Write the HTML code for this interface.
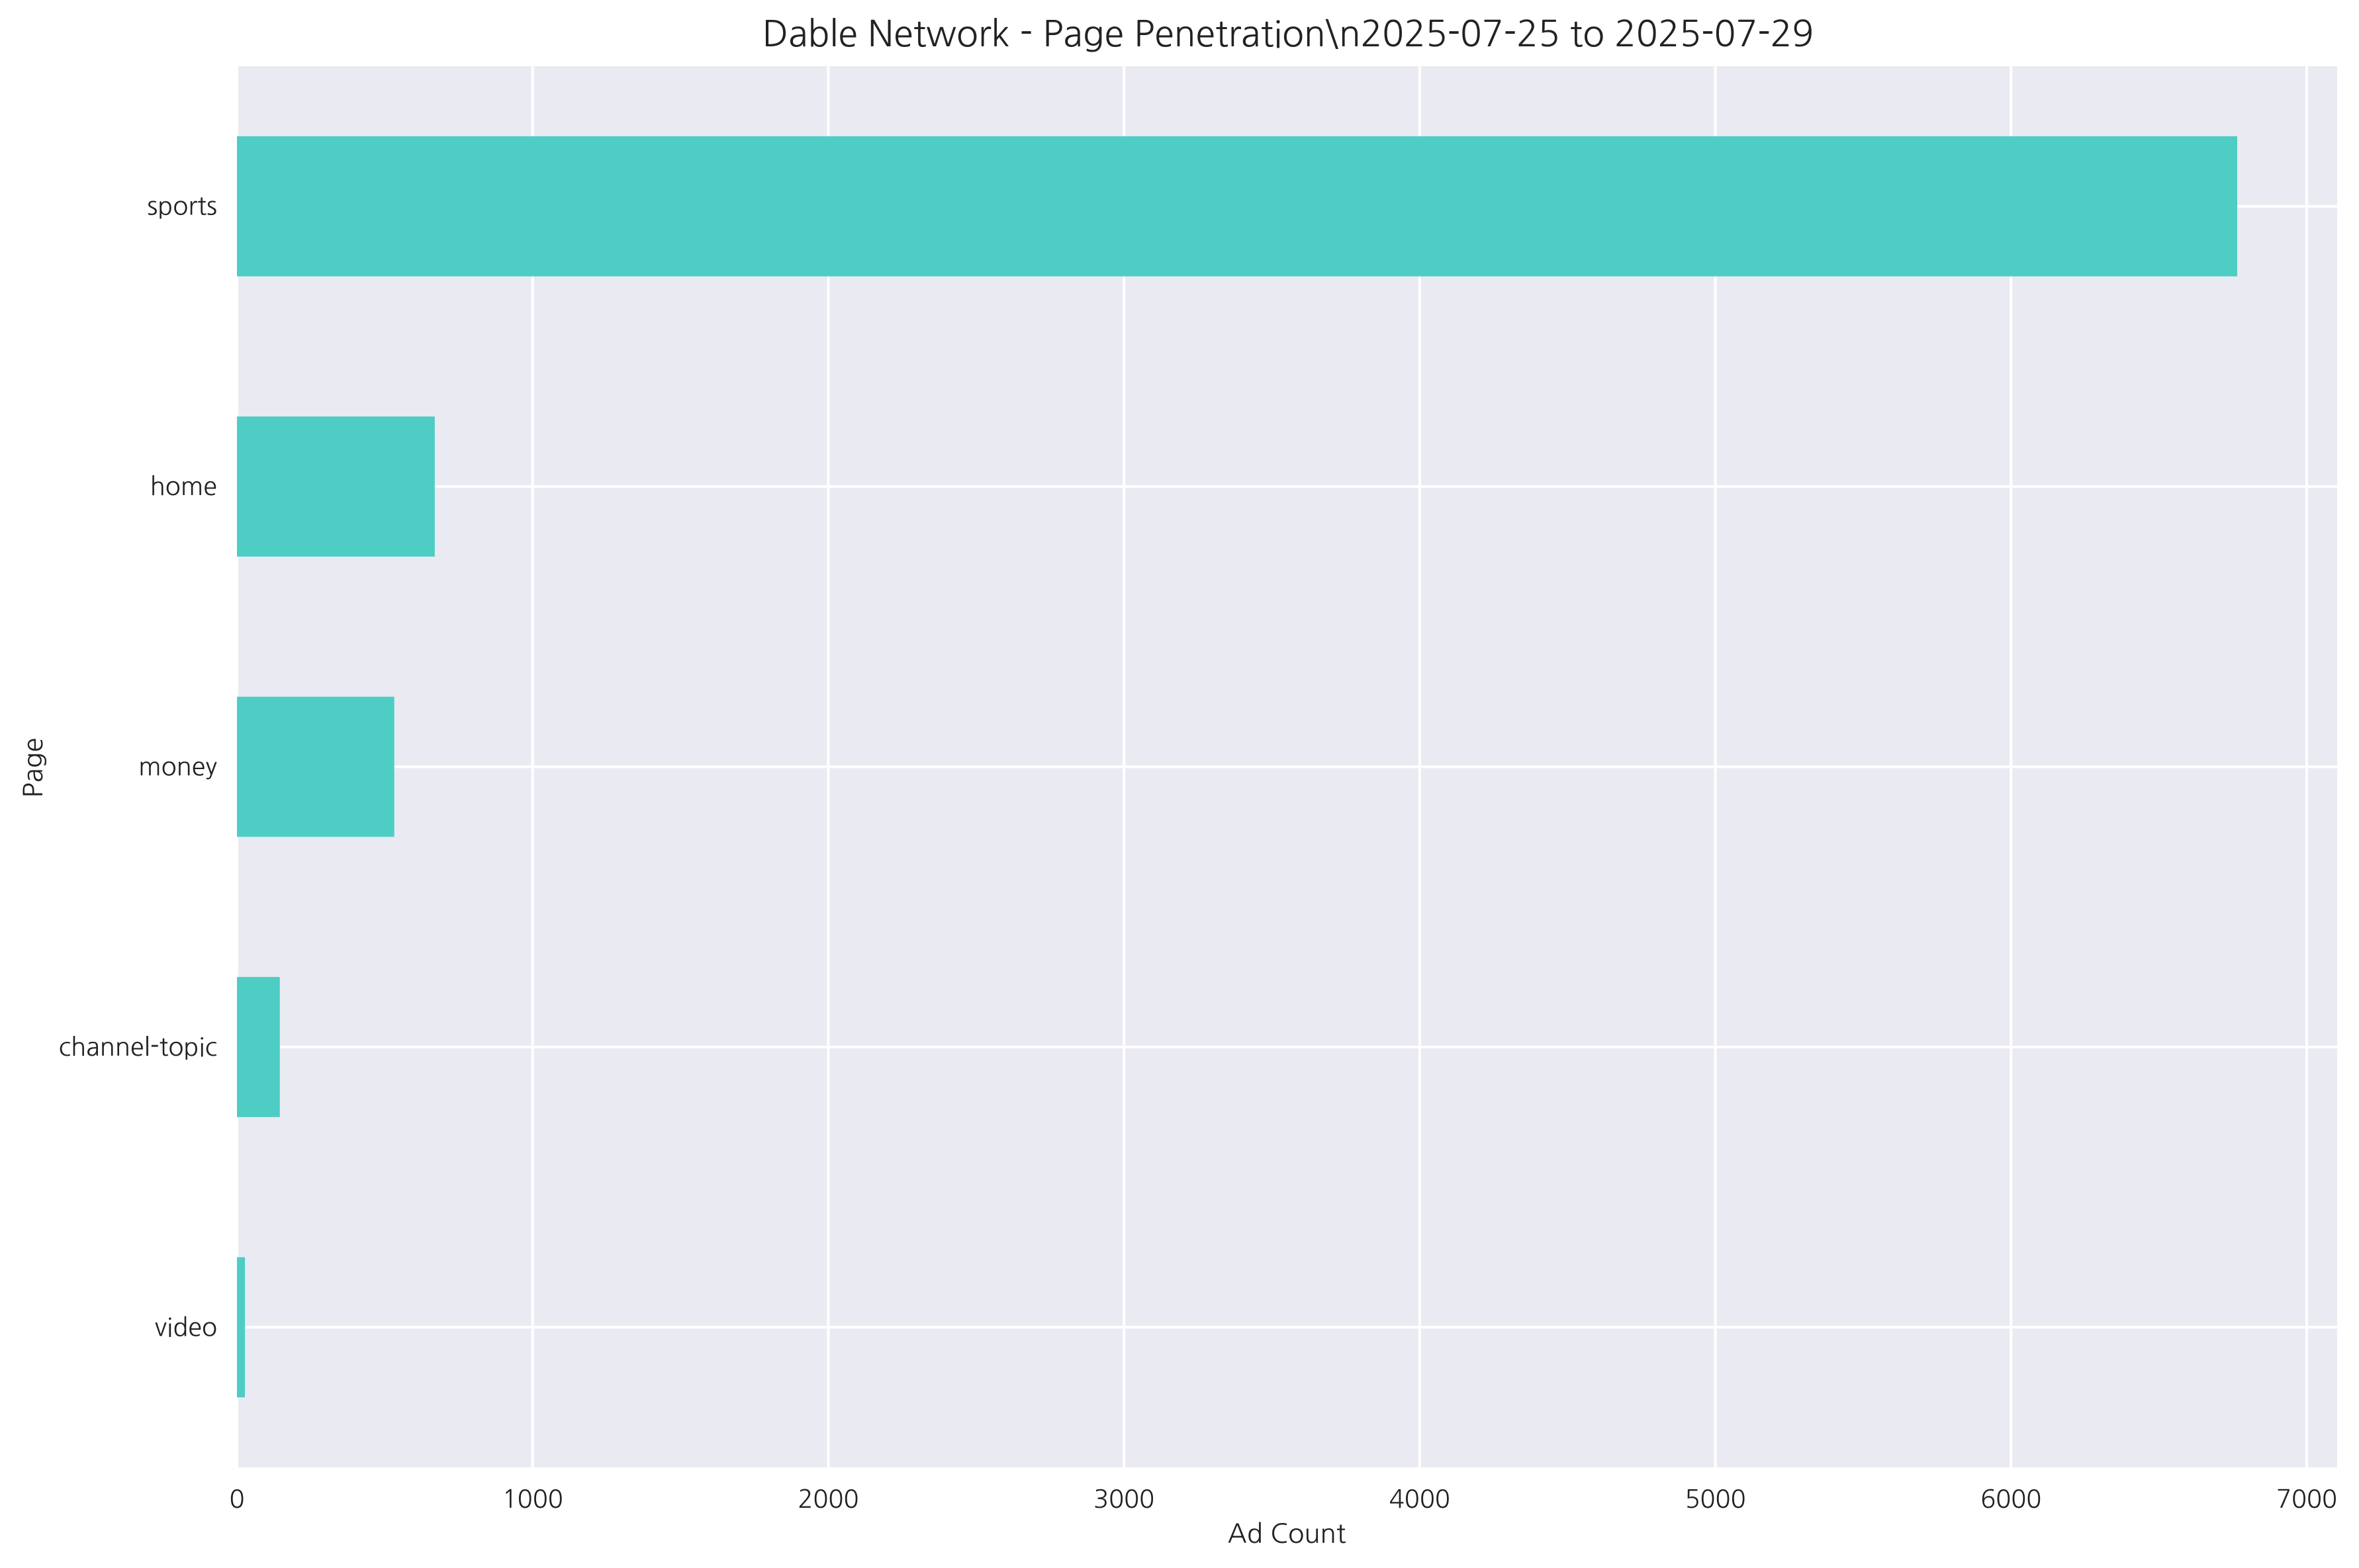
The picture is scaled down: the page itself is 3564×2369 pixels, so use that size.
<!DOCTYPE html>
<html><head><meta charset="utf-8"><style>
body{margin:0;background:#fff}
svg{display:block;font-family:"NanumGothic","Liberation Sans",sans-serif}
</style></head><body>
<svg id="chart" width="3564" height="2369" viewBox="0 0 3564 2369" xmlns="http://www.w3.org/2000/svg">
<rect x="0" y="0" width="3564" height="2369" fill="#fff"/>
<text x="1946" y="70" font-size="54" text-anchor="middle" fill="#222">Dable Network - Page Penetration\n2025-07-25 to 2025-07-29</text>
<g id="plot"></g>
<text x="1944" y="2331" font-size="40" text-anchor="middle" fill="#222">Ad Count</text>
<text x="0" y="0" font-size="40" text-anchor="middle" fill="#222" transform="translate(64,1160) rotate(-90)">Page</text>
</svg>
<script>
const categories = ["sports","home","money","channel-topic","video"];
const values = [6765, 669, 532, 145, 27];
const xTicks = [0,1000,2000,3000,4000,5000,6000,7000];
const xTickLabels = ["0","1000","2000","3000","4000","5000","6000","7000"];

const L=358,R=3531,T=100,B=2217,XMAX=7103;
const NS="http://www.w3.org/2000/svg";
const g=document.getElementById('plot');
const xs=v=>L+(v/XMAX)*(R-L);
const band=(B-T)/categories.length;
const ys=i=>T+band*(i+0.5);
function mk(tag,attrs){const e=document.createElementNS(NS,tag);for(const k in attrs)e.setAttribute(k,attrs[k]);g.appendChild(e);return e;}

const bg=mk('rect',{x:L,y:T,width:R-L,height:B-T,fill:'#eaeaf2'});



xTicks.forEach((t,i)=>{
  const ln=mk('line',{x1:xs(t),x2:xs(t),y1:T,y2:B,stroke:'#fff','stroke-width':4});
  
  
  const tx=mk('text',{x:xs(t),y:2278,'font-size':38,'text-anchor':'middle',fill:'#222'});
  tx.textContent=xTickLabels[i];
  
  
});
categories.forEach((c,i)=>{
  const ln=mk('line',{x1:L,x2:R,y1:ys(i),y2:ys(i),stroke:'#fff','stroke-width':4});
  
  
});
categories.forEach((c,i)=>{
  const h=band*0.5;
  const r=mk('rect',{x:xs(0),y:ys(i)-h/2,width:xs(values[i])-xs(0),height:h,fill:'#4ecdc4'});
  
  
  const tx=mk('text',{x:328,y:ys(i)+13,'font-size':38,'text-anchor':'end',fill:'#222'});
  tx.textContent=c;
  
  
});
</script>
</body></html>
